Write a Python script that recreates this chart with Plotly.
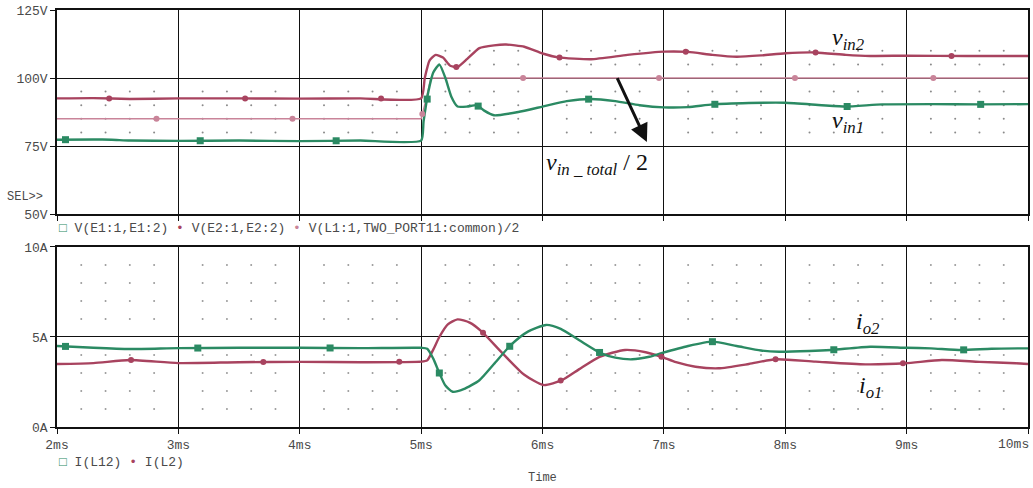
import numpy as np
import plotly.graph_objects as go

# ---------------- data (time in ms) ----------------
t_v1 = [2.0, 2.3, 2.45, 2.6, 3.0, 3.5, 4.0, 4.5, 5.0, 5.02, 5.06, 5.1, 5.15, 5.2, 5.25, 5.3, 5.38,
        5.46, 5.52, 5.6, 5.8, 6.0, 6.2, 6.4, 6.6, 6.8, 7.0, 7.2, 7.4, 7.7, 8.0, 8.3, 8.5, 8.8,
        9.2, 9.6, 10.0]
v_e1 = [77.3, 77.4, 77.3, 77.0, 76.9, 77.0, 76.8, 77.0, 77.0, 84.0, 95.0, 102.0, 105.0, 100.0,
        93.0, 89.5, 89.5, 90.0, 88.0, 86.3, 87.5, 89.5, 91.5, 92.3, 91.5, 90.0, 89.2, 89.3,
        90.3, 90.8, 90.9, 90.0, 89.5, 90.3, 90.4, 90.3, 90.4]

t_v2 = [2.0, 2.3, 2.6, 3.0, 3.5, 4.0, 4.5, 5.0, 5.03, 5.07, 5.12, 5.18, 5.24, 5.3, 5.38, 5.48,
        5.6, 5.7, 5.85, 6.0, 6.13, 6.4, 6.7, 7.0, 7.2, 7.4, 7.6, 7.8, 8.0, 8.25, 8.5, 8.7, 9.0,
        9.5, 10.0]
v_e2 = [92.5, 92.6, 92.3, 92.5, 92.5, 92.4, 92.5, 92.5, 100.0, 106.5, 108.5, 107.5, 104.5,
        104.0, 107.0, 111.0, 112.0, 112.3, 111.5, 109.0, 107.6, 106.9, 108.5, 109.7, 109.6,
        108.5, 107.8, 108.3, 109.1, 109.4, 108.5, 108.1, 108.2, 108.1, 108.1]

t_vt = [2.0, 5.0, 5.04, 5.08, 10.0]
v_total_half = [85.0, 85.0, 92.0, 100.0, 100.0]

t_i = [2.0, 2.3, 2.6, 3.0, 3.5, 4.0, 4.5, 5.0, 5.05, 5.1, 5.15, 5.2, 5.26, 5.35, 5.48, 5.6,
       5.74, 5.88, 6.03, 6.15, 6.3, 6.48, 6.6, 6.74, 6.88, 6.98, 7.2, 7.4, 7.6, 7.8, 7.95,
       8.2, 8.38, 8.7, 9.0, 9.2, 9.45, 9.7, 10.0]
i_l12 = [4.5, 4.4, 4.33, 4.38, 4.4, 4.4, 4.38, 4.4, 4.35, 3.8, 3.0, 2.3, 1.96, 2.1, 2.6, 3.5,
         4.56, 5.3, 5.67, 5.45, 4.83, 4.1, 3.85, 3.76, 3.9, 4.1, 4.5, 4.74, 4.5, 4.25, 4.18,
         4.22, 4.28, 4.46, 4.4, 4.37, 4.28, 4.35, 4.37]

t_i2 = [2.0, 2.3, 2.6, 3.0, 3.5, 4.0, 4.5, 5.0, 5.05, 5.1, 5.15, 5.22, 5.3, 5.4, 5.5, 5.67,
        5.85, 6.01, 6.16, 6.3, 6.47, 6.68, 6.85, 6.98, 7.1, 7.26, 7.45, 7.7, 7.92, 8.25, 8.66,
        8.99, 9.29, 9.6, 9.9, 10.0]
i_l2 = [3.5, 3.55, 3.72, 3.55, 3.6, 3.62, 3.6, 3.63, 3.7, 4.3, 5.0, 5.7, 5.98, 5.8, 5.3, 4.1,
        2.9, 2.33, 2.6, 3.2, 3.9, 4.28, 4.15, 3.9, 3.6, 3.35, 3.26, 3.5, 3.76, 3.63, 3.48,
        3.54, 3.72, 3.62, 3.54, 3.5]

# marker times (PSpice trace symbols)
mk_v1 = [2.07, 3.18, 4.3, 5.05, 5.47, 6.38, 7.42, 8.51, 9.61]
mk_v2 = [2.43, 3.55, 4.67, 5.29, 6.14, 7.18, 8.25, 9.37]
mk_vt = [2.82, 3.94, 5.01, 5.84, 6.96, 8.08, 9.22]
mk_i1 = [2.07, 3.16, 4.25, 5.15, 5.73, 6.47, 7.4, 8.4, 9.47]
mk_i2 = [2.61, 3.7, 4.82, 5.51, 6.15, 6.98, 7.92, 8.97]

x_ticks = [2, 3, 4, 5, 6, 7, 8, 9, 10]
x_labels = ["2ms", "3ms", "4ms", "5ms", "6ms", "7ms", "8ms", "9ms", "10ms"]
v_ticks = [50, 75, 100, 125]
v_labels = ["50V", "75V", "100V", "125V"]
i_ticks = [0, 5, 10]
i_labels = ["0A", "5A", "10A"]

# ---------------- styling ----------------
GREEN = "#2b8a63"
RED = "#a8435f"
PINK = "#c98499"
MONO = "Liberation Mono, Courier New, monospace"
SERIF = "Liberation Serif, Times New Roman, serif"
TXT = "#4a4a4a"

fig = go.Figure()

# minor grid dots
gx = np.round(np.arange(2.0, 10.001, 0.2), 3)
gx = gx[(np.abs(gx - np.round(gx)) > 0.01)]
top_rows = [80, 85, 90, 95]
top_rows_hi = [105, 110]
dx, dy = [], []
for r in top_rows:
    dx += list(gx); dy += [r] * len(gx)
for r in top_rows_hi:
    sel = gx[gx > 5]
    dx += list(sel); dy += [r] * len(sel)
fig.add_trace(go.Scatter(x=dx, y=dy, mode="markers", xaxis="x", yaxis="y",
                         marker=dict(size=2, color="#8a8a8a"), hoverinfo="skip", showlegend=False))
bx, by = [], []
for r in [1, 2, 3, 4, 6, 7, 8, 9]:
    bx += list(gx); by += [r] * len(gx)
fig.add_trace(go.Scatter(x=bx, y=by, mode="markers", xaxis="x2", yaxis="y2",
                         marker=dict(size=2, color="#9a9a9a"), hoverinfo="skip", showlegend=False))

# top traces
fig.add_trace(go.Scatter(x=t_vt, y=v_total_half, mode="lines", xaxis="x", yaxis="y",
                         line=dict(color=PINK, width=1.4), showlegend=False))
fig.add_trace(go.Scatter(x=t_v2, y=v_e2, mode="lines", xaxis="x", yaxis="y",
                         line=dict(color=RED, width=2.4, shape="spline", smoothing=0.5), showlegend=False))
fig.add_trace(go.Scatter(x=t_v1, y=v_e1, mode="lines", xaxis="x", yaxis="y",
                         line=dict(color=GREEN, width=2.4, shape="spline", smoothing=0.5), showlegend=False))
fig.add_trace(go.Scatter(x=mk_vt, y=np.interp(mk_vt, t_vt, v_total_half), mode="markers",
                         xaxis="x", yaxis="y", marker=dict(color=PINK, size=6), showlegend=False))
fig.add_trace(go.Scatter(x=mk_v2, y=np.interp(mk_v2, t_v2, v_e2), mode="markers",
                         xaxis="x", yaxis="y", marker=dict(color=RED, size=6), showlegend=False))
fig.add_trace(go.Scatter(x=mk_v1, y=np.interp(mk_v1, t_v1, v_e1), mode="markers",
                         xaxis="x", yaxis="y", marker=dict(color=GREEN, size=7, symbol="square"),
                         showlegend=False))

# bottom traces
fig.add_trace(go.Scatter(x=t_i2, y=i_l2, mode="lines", xaxis="x2", yaxis="y2",
                         line=dict(color=RED, width=2.4, shape="spline", smoothing=0.6), showlegend=False))
fig.add_trace(go.Scatter(x=t_i, y=i_l12, mode="lines", xaxis="x2", yaxis="y2",
                         line=dict(color=GREEN, width=2.4, shape="spline", smoothing=0.6), showlegend=False))
fig.add_trace(go.Scatter(x=mk_i2, y=np.interp(mk_i2, t_i2, i_l2), mode="markers",
                         xaxis="x2", yaxis="y2", marker=dict(color=RED, size=6), showlegend=False))
fig.add_trace(go.Scatter(x=mk_i1, y=np.interp(mk_i1, t_i, i_l12), mode="markers",
                         xaxis="x2", yaxis="y2", marker=dict(color=GREEN, size=7, symbol="square"),
                         showlegend=False))

axis_common = dict(range=[2, 10], tickvals=x_ticks, showgrid=True, gridcolor="#111111",
                   gridwidth=1.2, showline=True, linecolor="#111111", linewidth=1.5, mirror=True,
                   ticks="outside", ticklen=5, tickcolor="#111111", zeroline=False,
                   tickfont=dict(family=MONO, size=13, color=TXT))
yaxis_common = dict(showgrid=True, gridcolor="#111111", gridwidth=1.2, showline=True,
                    linecolor="#111111", linewidth=1.5, mirror=True, ticks="outside", ticklen=5,
                    tickcolor="#111111", zeroline=False, tickfont=dict(family=MONO, size=13, color=TXT))

# the last x label is placed right-aligned at the window edge (like the reference)
x_labels_axis = x_labels[:-1] + [""]

fig.update_layout(
    width=1033, height=488,
    margin=dict(l=57, r=3, t=10, b=61),
    paper_bgcolor="white", plot_bgcolor="white",
    xaxis=dict(axis_common, anchor="y", domain=[0, 1], showticklabels=False),
    yaxis=dict(yaxis_common, domain=[0.5108, 1], range=[50, 125], tickvals=v_ticks, ticktext=v_labels),
    xaxis2=dict(axis_common, anchor="y2", domain=[0, 1], ticktext=x_labels_axis),
    yaxis2=dict(yaxis_common, domain=[0, 0.4317], range=[0, 10], tickvals=i_ticks, ticktext=i_labels),
    showlegend=False,
)

ann = []
ann.append(dict(xref="paper", yref="paper", x=1.003, y=-0.0415, xanchor="right", yanchor="middle",
                showarrow=False, font=dict(family=MONO, size=13, color=TXT), text=x_labels[-1]))
# legends
ann.append(dict(xref="paper", yref="paper", x=0.0, y=0.476, xanchor="left", yanchor="middle",
                showarrow=False, font=dict(family=MONO, size=13, color=TXT),
                text=(f'<span style="color:{GREEN}">□</span> V(E1:1,E1:2) '
                      f'<span style="color:{RED}">•</span> V(E2:1,E2:2) '
                      f'<span style="color:{PINK}">•</span> V(L1:1,TWO_PORT11:common)/2')))
ann.append(dict(xref="paper", yref="paper", x=0.0, y=-0.086, xanchor="left", yanchor="middle",
                showarrow=False, font=dict(family=MONO, size=13, color=TXT),
                text=(f'<span style="color:{GREEN}">□</span> I(L12) '
                      f'<span style="color:{RED}">•</span> I(L2)')))
ann.append(dict(xref="paper", yref="paper", x=0.5, y=-0.122, xanchor="center", yanchor="middle",
                showarrow=False, font=dict(family=MONO, size=12, color=TXT), text="Time"))
ann.append(dict(xref="paper", yref="paper", x=-0.012, y=0.552, xanchor="right", yanchor="middle",
                showarrow=False, font=dict(family=MONO, size=12, color=TXT), text="SEL&gt;&gt;"))
# curve labels
ann.append(dict(xref="x", yref="y", x=8.52, y=114.5, showarrow=False,
                font=dict(family=SERIF, size=24, color="#111111"),
                text="<i>v</i><sub><i>in2</i></sub>"))
ann.append(dict(xref="x", yref="y", x=8.52, y=84.0, showarrow=False,
                font=dict(family=SERIF, size=24, color="#111111"),
                text="<i>v</i><sub><i>in1</i></sub>"))
ann.append(dict(xref="x", yref="y", x=6.45, y=68.5, showarrow=False,
                font=dict(family=SERIF, size=24, color="#111111"),
                text="<i>v</i><sub><i>in _ total</i></sub> / 2"))
ann.append(dict(xref="x", yref="y", x=6.86, y=76.5, ax=6.61, ay=100.5, axref="x", ayref="y",
                showarrow=True, arrowhead=2, arrowsize=1.2, arrowwidth=3, arrowcolor="#111111",
                text=""))
ann.append(dict(xref="x2", yref="y2", x=8.68, y=5.8, showarrow=False,
                font=dict(family=SERIF, size=24, color="#111111"),
                text="<i>i</i><sub><i>o2</i></sub>"))
ann.append(dict(xref="x2", yref="y2", x=8.7, y=2.2, showarrow=False,
                font=dict(family=SERIF, size=24, color="#111111"),
                text="<i>i</i><sub><i>o1</i></sub>"))
fig.update_layout(annotations=ann)

fig.write_html("out.html")
